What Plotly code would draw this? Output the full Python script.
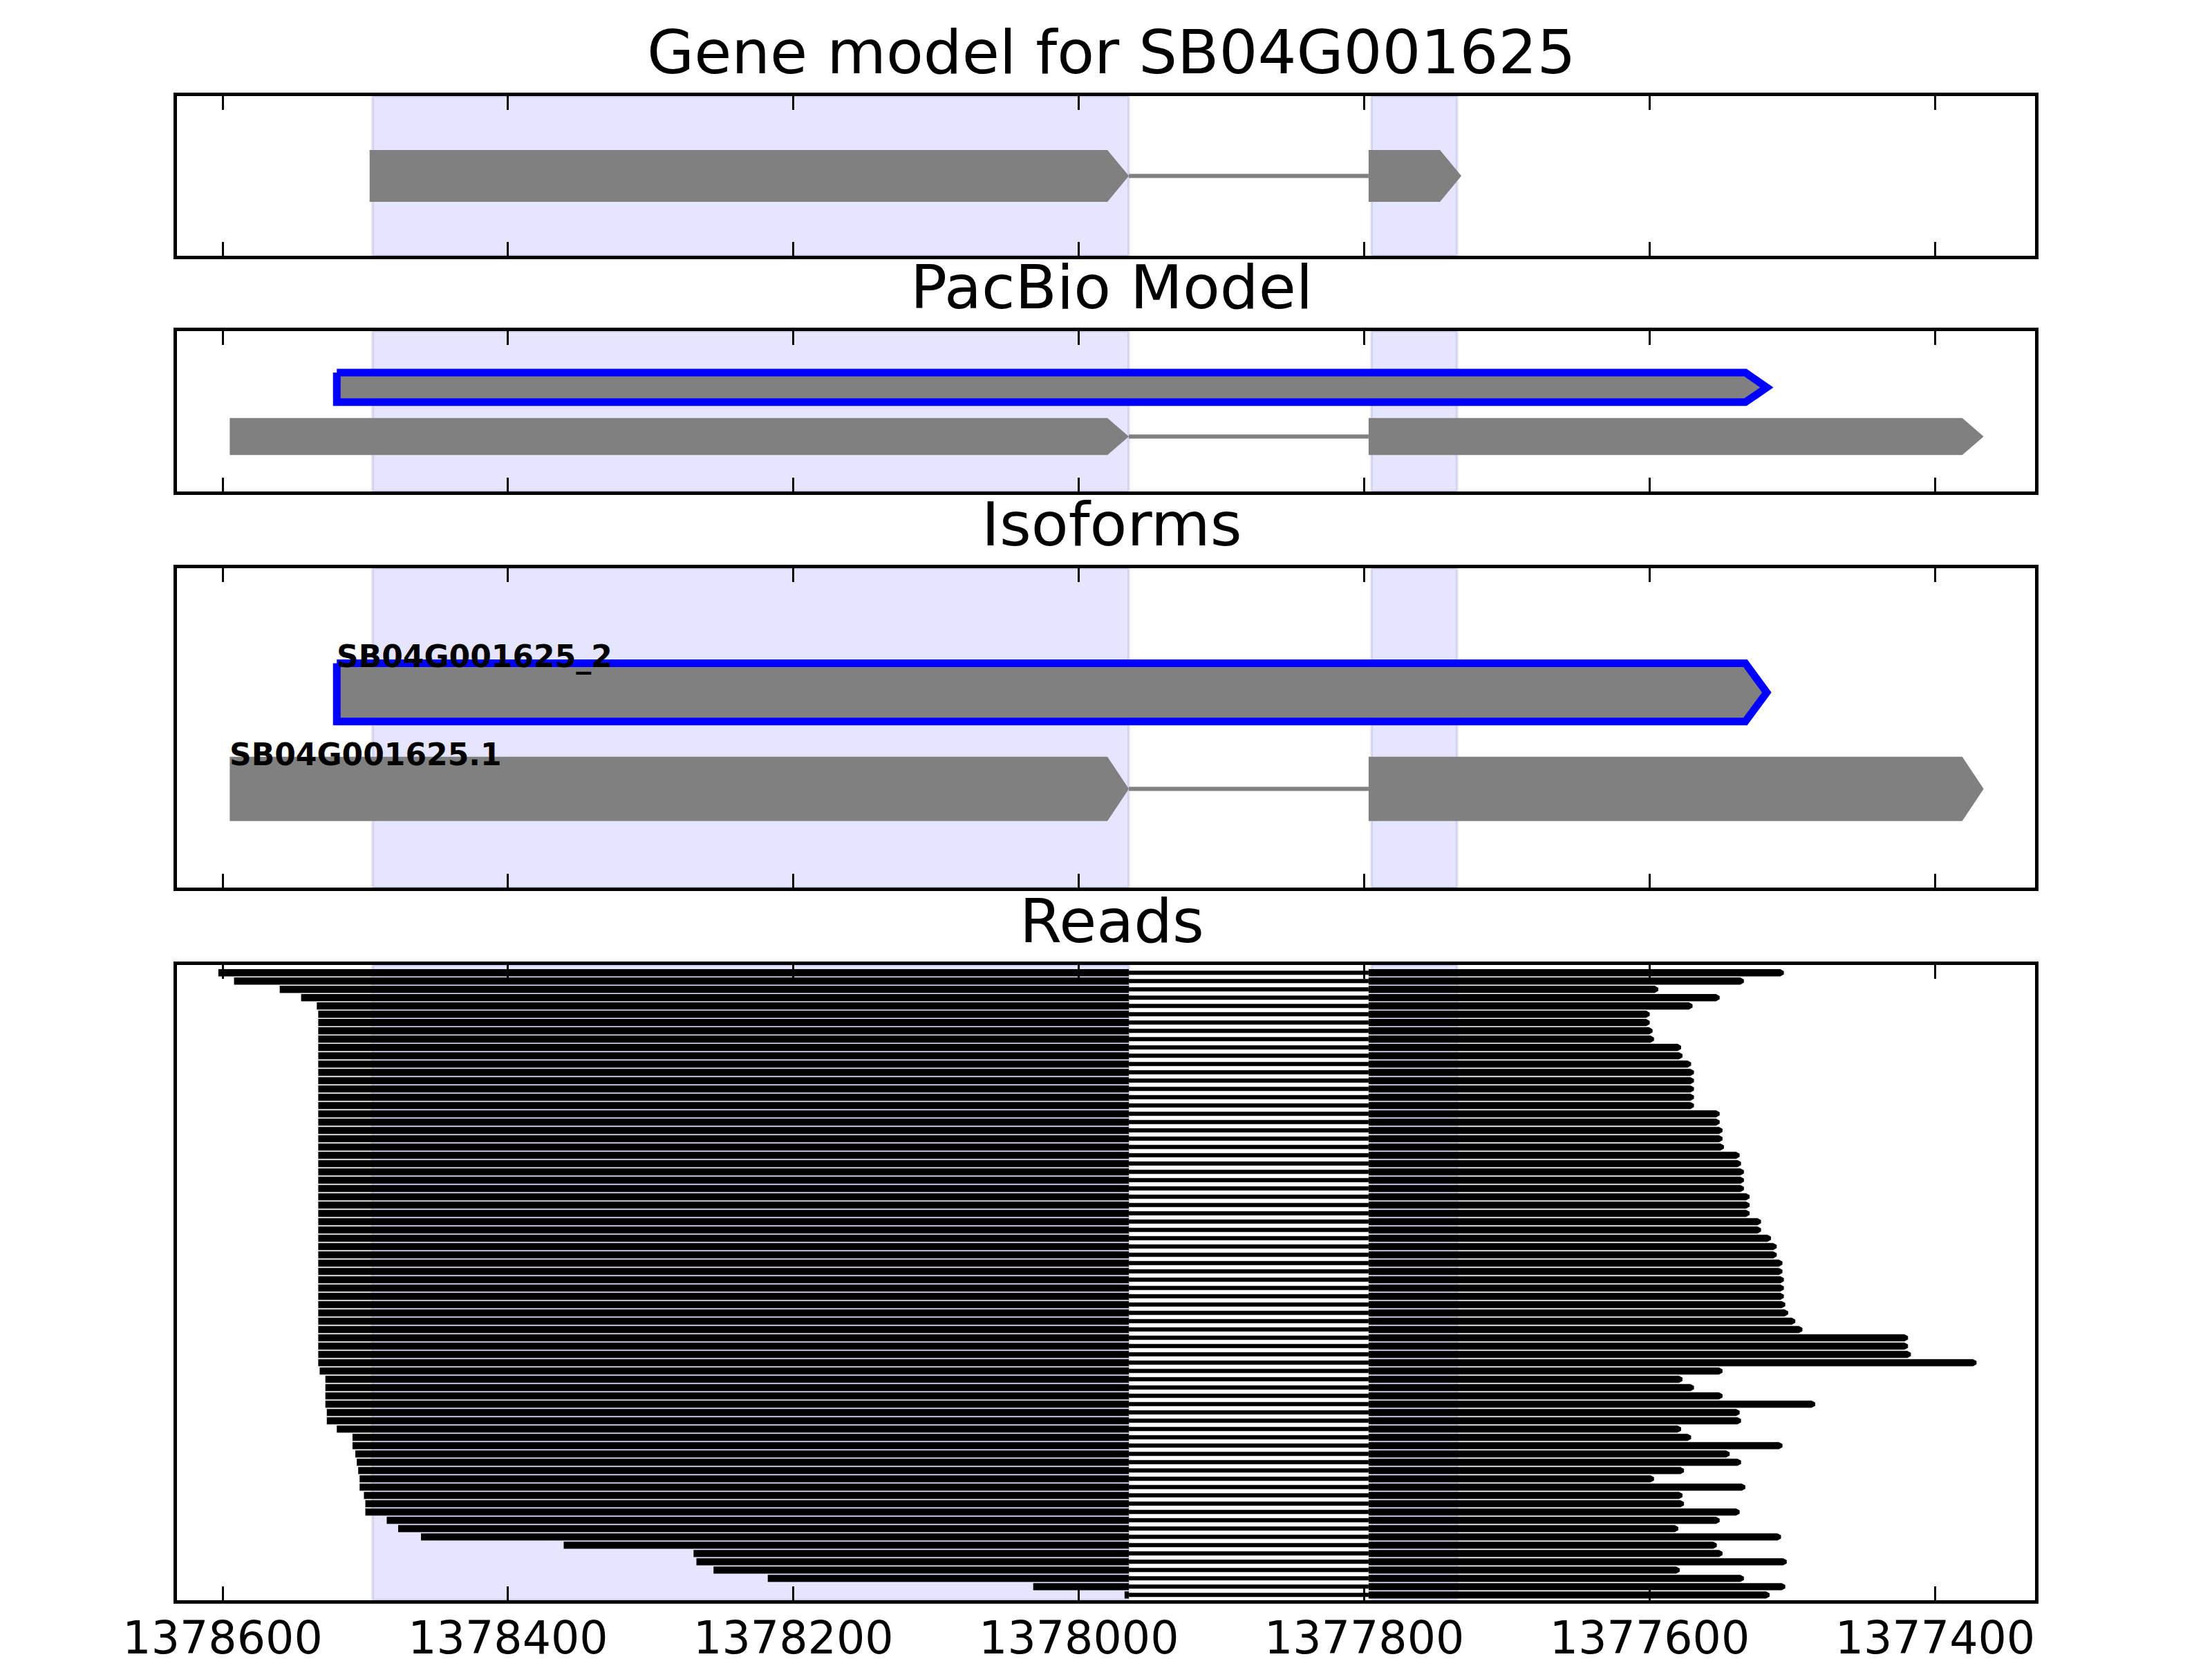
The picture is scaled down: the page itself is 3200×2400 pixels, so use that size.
import plotly.graph_objects as go

# ---------------- data ----------------
x_range = [1378632, 1377330]
tick_vals = [1378600, 1378400, 1378200, 1378000, 1377800, 1377600, 1377400]
tick_text = [str(v) for v in tick_vals]

panel_titles = ["Gene model for SB04G001625", "PacBio Model", "Isoforms", "Reads"]

gene_exons = [(1378497, 1377965), (1377797, 1377732)]
highlight_spans = [(1378495, 1377965), (1377795, 1377735)]

isoform_1_exons = [(1378595, 1377965), (1377797, 1377366)]   # SB04G001625.1
isoform_2_exons = [(1378520, 1377518)]                        # SB04G001625_2
isoform_names = ["SB04G001625_2", "SB04G001625.1"]

read_intron = (1377965, 1377797)
read_starts = [
    1378603, 1378592, 1378560, 1378545, 1378534,
    1378533, 1378533, 1378533, 1378533, 1378533, 1378533, 1378533, 1378533, 1378533, 1378533,
    1378533, 1378533, 1378533, 1378533, 1378533, 1378533, 1378533, 1378533, 1378533, 1378533,
    1378533, 1378533, 1378533, 1378533, 1378533, 1378533, 1378533, 1378533, 1378533, 1378533,
    1378533, 1378533, 1378533, 1378533, 1378533, 1378533, 1378533, 1378533, 1378533, 1378533,
    1378533, 1378533, 1378533,
    1378532, 1378528, 1378528, 1378528, 1378528, 1378527, 1378527, 1378520,
    1378509, 1378509, 1378507, 1378506, 1378505, 1378504, 1378504, 1378501,
    1378500, 1378500, 1378485, 1378477, 1378461, 1378361, 1378270, 1378268,
    1378256, 1378218, 1378032, 1377968,
]
read_ends = [
    1377506, 1377534, 1377594, 1377551, 1377570, 1377600, 1377600, 1377598, 1377597, 1377578,
    1377577, 1377571, 1377569, 1377569, 1377569, 1377569, 1377569, 1377551, 1377551, 1377549,
    1377549, 1377548, 1377537, 1377536, 1377534, 1377534, 1377534, 1377530, 1377530, 1377530,
    1377522, 1377522, 1377515, 1377511, 1377511, 1377507, 1377507, 1377506, 1377506, 1377506,
    1377505, 1377503, 1377498, 1377493, 1377419, 1377419, 1377417, 1377371, 1377549, 1377577,
    1377569, 1377549, 1377484, 1377537, 1377536, 1377578, 1377571, 1377507, 1377544, 1377536,
    1377576, 1377597, 1377533, 1377577, 1377576, 1377537, 1377551, 1377580, 1377508, 1377553,
    1377549, 1377504, 1377579, 1377534, 1377505, 1377516,
]

# ---------------- layout constants ----------------
W, H = 3200, 2400
OFF_X, OFF_Y = 8, 4  # compensate for the page's default body margin
FONT = "DejaVu Sans"
GRAY = "#808080"
x_dom = [(256 - OFF_X) / W, (2944 - OFF_X) / W]
# panel pixel extents (top, bottom)
panels_px = [(135, 366), (475, 707), (818, 1280), (1392, 2311)]
y_doms = [[1 - (b - OFF_Y) / H, 1 - (t - OFF_Y) / H] for t, b in panels_px]
HEAD = 15


def arrow_poly(a, b, yc, hh, head, tip_frac=0.0):
    base = b + head if (a - b) > head else a
    xs = [a, base, b, b, base, a, a]
    ys = [yc + hh, yc + hh, yc + hh * tip_frac, yc - hh * tip_frac, yc - hh, yc - hh, yc + hh]
    return xs, ys


def poly_trace(exons, yc, hh, head, fill, line_color, line_width, axis, tip_frac=0.0):
    xs, ys = [], []
    for a, b in exons:
        px, py = arrow_poly(a, b, yc, hh, head, tip_frac)
        xs += px + [None]
        ys += py + [None]
    return go.Scatter(x=xs, y=ys, mode="lines", fill="toself", fillcolor=fill,
                      line=dict(color=line_color, width=line_width),
                      xaxis="x" + axis, yaxis="y" + axis, hoverinfo="skip", showlegend=False)


def intron_trace(exons, yc, color, width, axis):
    xs, ys = [], []
    for (a1, b1), (a2, b2) in zip(exons[:-1], exons[1:]):
        xs += [b1, a2, None]
        ys += [yc, yc, None]
    return go.Scatter(x=xs, y=ys, mode="lines", line=dict(color=color, width=width),
                      xaxis="x" + axis, yaxis="y" + axis, hoverinfo="skip", showlegend=False)


fig = go.Figure()

# Panel 1: gene model
fig.add_trace(intron_trace(gene_exons, 0.5, GRAY, 6, ""))
fig.add_trace(poly_trace(gene_exons, 0.5, 0.162, HEAD, GRAY, GRAY, 0, ""))

# Panel 2: PacBio model
fig.add_trace(intron_trace(isoform_1_exons, 0.3425, GRAY, 6, "2"))
fig.add_trace(poly_trace(isoform_1_exons, 0.3425, 0.115, HEAD, GRAY, GRAY, 0, "2"))
fig.add_trace(poly_trace(isoform_2_exons, 0.6488, 0.0922, HEAD, GRAY, "#0000ff", 11, "2"))

# Panel 3: isoforms  (exons, row centre, half height, outlined, label shift px)
iso_rows = {isoform_names[0]: (isoform_2_exons, 0.611, 0.0912, True, 24),
            isoform_names[1]: (isoform_1_exons, 0.309, 0.1006, False, 22)}
for name, (exons, yc, hh, blue, _) in iso_rows.items():
    if len(exons) > 1:
        fig.add_trace(intron_trace(exons, yc, GRAY, 6, "3"))
    if blue:
        fig.add_trace(poly_trace(exons, yc, hh, HEAD, GRAY, "#0000ff", 11, "3"))
    else:
        fig.add_trace(poly_trace(exons, yc, hh, HEAD, GRAY, GRAY, 0, "3"))

# Panel 4: reads
rx, ry, ix, iy = [], [], [], []
for i, (s, e) in enumerate(zip(read_starts, read_ends)):
    exons = [(s, read_intron[0]), (read_intron[1], e)]
    for a, b in exons:
        px, py = arrow_poly(a, b, i, 0.43, 2.5, 0.45) if b == e else (
            [a, b, b, a, a], [i + 0.43, i + 0.43, i - 0.43, i - 0.43, i + 0.43])
        rx += px + [None]
        ry += py + [None]
    ix += [read_intron[0], read_intron[1], None]
    iy += [i, i, None]
fig.add_trace(go.Scatter(x=ix, y=iy, mode="lines", line=dict(color="black", width=6),
                         xaxis="x4", yaxis="y4", hoverinfo="skip", showlegend=False))
fig.add_trace(go.Scatter(x=rx, y=ry, mode="lines", fill="toself", fillcolor="black",
                         line=dict(color="black", width=0), xaxis="x4", yaxis="y4",
                         hoverinfo="skip", showlegend=False))

# highlight spans in all panels
shapes = []
for k in ["", "2", "3", "4"]:
    for a, b in highlight_spans:
        shapes.append(dict(type="rect", xref="x" + k, yref=("y" + k + " domain"),
                           x0=a, x1=b, y0=0, y1=1, layer="below",
                           fillcolor="rgba(0,0,255,0.1)",
                           line=dict(color="rgba(60,60,140,0.12)", width=4)))

n_reads = len(read_starts)
layout = dict(width=W, height=H, margin=dict(l=0, r=0, t=0, b=0, autoexpand=False),
              template="none",
              paper_bgcolor="white", plot_bgcolor="white", showlegend=False,
              font=dict(family=FONT, color="black"), shapes=shapes)

for idx, k in enumerate(["", "2", "3", "4"]):
    last = idx == 3
    layout["xaxis" + k] = dict(domain=x_dom, range=x_range, anchor="y" + k,
                               automargin=False, ticklabelstandoff=-6,
                               tickmode="array", tickvals=tick_vals, ticktext=tick_text,
                               showticklabels=last, ticks="inside", ticklen=20, tickwidth=3,
                               tickcolor="black", showline=True, linecolor="black",
                               linewidth=5, mirror="ticks", showgrid=False, zeroline=False,
                               tickfont=dict(family=FONT, size=65, color="black"))
    yr = [n_reads - 1 + 0.64, -0.94] if last else [0, 1]
    layout["yaxis" + k] = dict(domain=y_doms[idx], range=yr, anchor="x" + k,
                               automargin=False,
                               showticklabels=False, ticks="", showline=True,
                               linecolor="black", linewidth=5, mirror=True,
                               showgrid=False, zeroline=False)

annotations = []
for idx, t in enumerate(panel_titles):
    annotations.append(dict(text=t, xref="paper", yref="paper", x=0.5, y=y_doms[idx][1],
                            xanchor="center", yanchor="bottom", yshift=10, showarrow=False,
                            font=dict(family=FONT, size=88, color="black")))
for name, (exons, yc, hh, blue, shift) in iso_rows.items():
    annotations.append(dict(text="<b>" + name + "</b>", xref="x3", yref="y3",
                            x=exons[0][0], y=yc, xanchor="left", yanchor="bottom",
                            yshift=shift, xshift=-2, showarrow=False,
                            font=dict(family=FONT, size=44, color="black")))
layout["annotations"] = annotations

fig.update_layout(**layout)
fig.write_html("out.html")
